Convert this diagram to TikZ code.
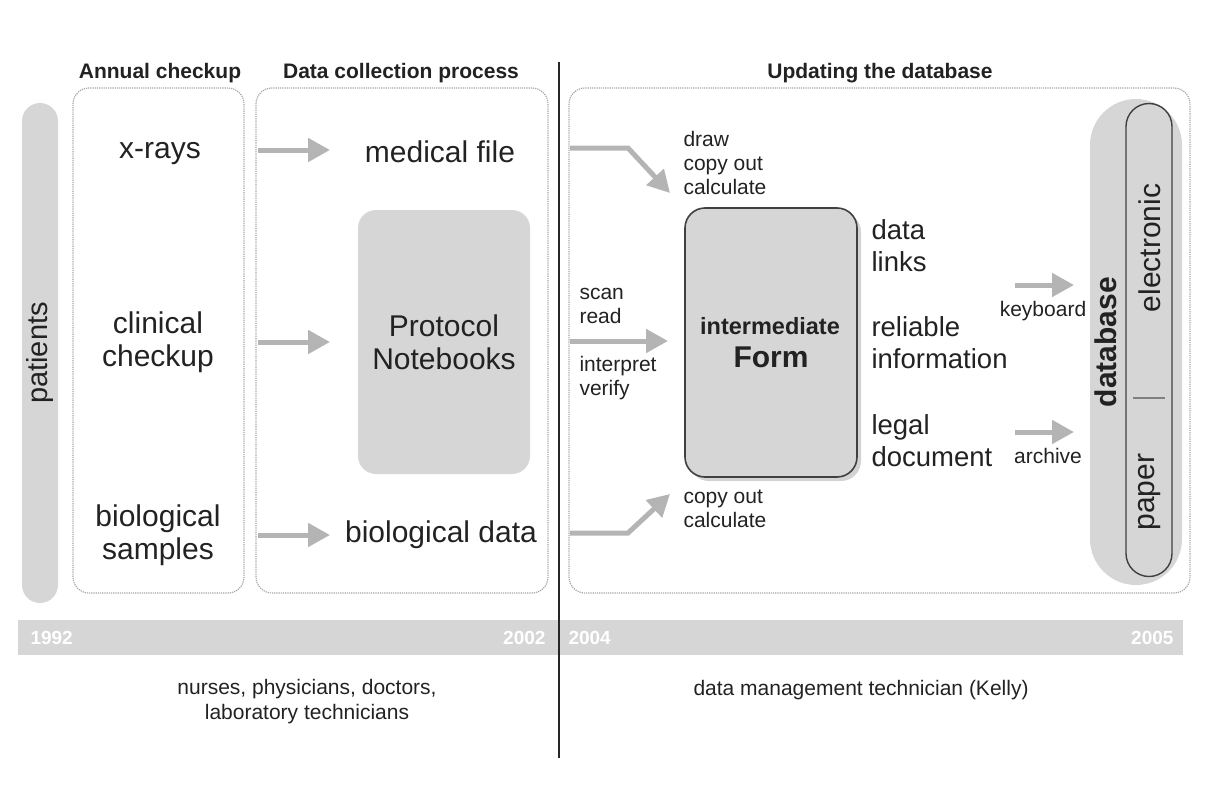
\documentclass[tikz,border=0pt]{standalone}
\usepackage{fontspec}
\setmainfont{Liberation Sans}
\usetikzlibrary{arrows.meta,shadows}
\definecolor{lightgrey}{HTML}{D6D6D6}
\definecolor{arrowgrey}{HTML}{B4B4B4}
\definecolor{textgrey}{HTML}{222222}
\begin{document}
\begin{tikzpicture}[x=1pt, y=-1pt, >={Triangle[length=22pt,width=23pt]},
    big/.style={font=\fontsize{30}{33}\selectfont, text=textgrey},
    mid/.style={font=\fontsize{27.5}{32}\selectfont, text=textgrey, align=left, anchor=west},
    small/.style={font=\fontsize{21}{24}\selectfont, text=textgrey, align=left, anchor=west},
    head/.style={font=\bfseries\fontsize{21}{24}\selectfont, text=textgrey},
    stagebox/.style={draw=gray!70, densely dotted, line width=1.2pt, rounded corners=16pt},
    flow/.style={->, arrowgrey, line width=5pt},
    year/.style={font=\bfseries\fontsize{19}{21}\selectfont, text=white}]
    \useasboundingbox (0,0) rectangle (1209,789);

    % patients and the three stages
    \node[fill=lightgrey, rotate=90, minimum width=500pt, minimum height=36pt,
        rounded corners=18pt, font=\fontsize{29}{33}\selectfont, text=textgrey] (patients) at (40,353) {patients};
    \node[stagebox, minimum width=171pt, minimum height=505pt] (annual) at (158.5,340.5) {};
    \node[stagebox, minimum width=292pt, minimum height=505pt] (collect) at (402,340.5) {};
    \node[stagebox, minimum width=621pt, minimum height=505pt] (update) at (879.5,340.5) {};
    \node[head] (annualt) at (160,73) {Annual checkup};
    \node[head] (collectt) at (401,73) {Data collection process};
    \node[head] (updatet) at (880,73) {Updating the database};

    % annual checkup
    \node[big] (xrays) at (160,154) {x-rays};
    \node[big, align=center] (clinical) at (158,342) {clinical\\checkup};
    \node[big, align=center] (samples) at (158,535) {biological\\samples};

    % data collection
    \node[big] (medfile) at (440,152) {medical file};
    \node[fill=lightgrey, rounded corners=18pt, minimum width=172pt, minimum height=264pt,
        big, align=center] (notebooks) at (444,342) {Protocol\\Notebooks};
    \node[big] (biodata) at (441,535) {biological data};
    \foreach \y/\n in {150/a, 342/b, 535/c}
    {
        \coordinate (in\n) at (258,\y);
        \coordinate (out\n) at (330,\y);
        \draw[flow] (in\n) -- (out\n);
    }

    % updating the database
    \node[fill=lightgrey, draw=black!75, line width=1.6pt, rounded corners=20pt,
        minimum width=172pt, minimum height=269pt,
        drop shadow={opacity=0.35, shadow xshift=4pt, shadow yshift=-4pt}] (form) at (771,342.5) {};
    \node[font=\bfseries\fontsize{23.5}{26}\selectfont, text=textgrey] (formlbl) at (770,326) {intermediate};
    \node[font=\bfseries\fontsize{30}{33}\selectfont, text=textgrey] (formname) at (771,357) {Form};
    \coordinate (topin) at (570,148);
    \coordinate (topbend) at (628,148);
    \coordinate (topend) at (670,193);
    \coordinate (midin) at (570,341);
    \coordinate (midend) at (668,341);
    \coordinate (botin) at (570,533);
    \coordinate (botbend) at (628,533);
    \coordinate (botend) at (670,494);
    \draw[flow] (topin) -- (topbend) -- (topend);
    \draw[flow] (midin) -- (midend);
    \draw[flow] (botin) -- (botbend) -- (botend);
    \node[small] (drawlbl) at (680,163) {draw\\copy out\\calculate};
    \node[small] (scanlbl) at (576,306) {scan\\read};
    \node[small] (interplbl) at (576,378) {interpret\\verify};
    \node[small] (copylbl) at (680,509) {copy out\\calculate};
    \node[mid] (links) at (868,246) {data\\links};
    \node[mid] (reliable) at (868,343) {reliable\\information};
    \node[mid] (legal) at (868,441) {legal\\document};
    \coordinate (kbin) at (1015,285);
    \coordinate (kbout) at (1074,285);
    \coordinate (arin) at (1015,432);
    \coordinate (arout) at (1074,432);
    \draw[flow] (kbin) -- (kbout);
    \draw[flow] (arin) -- (arout);
    \node[small, anchor=center] (keyboard) at (1043,311) {keyboard};
    \node[small, anchor=center] (archive) at (1048,456) {archive};

    % database
    \node[fill=lightgrey, rotate=90, minimum width=486pt, minimum height=92pt,
        rounded corners=46pt] (database) at (1136,342) {};
    \node[draw=black!75, line width=1.4pt, rotate=90, minimum width=473pt, minimum height=46pt,
        rounded corners=23pt] (storage) at (1149,340) {};
    \node[rotate=90, font=\bfseries\fontsize{30}{33}\selectfont, text=textgrey] (dblbl) at (1106,342) {database};
    \node[rotate=90, big] (electronic) at (1150,248) {electronic};
    \node[rotate=90, big] (paper) at (1150,492) {paper};
    \draw[gray, line width=1.2pt] (storage.center |- 0,398) ++(-16,0) coordinate (sepl) -- ++(32,0) coordinate (sepr);

    % time line
    \fill[lightgrey] (18,620) rectangle (1183,655);
    \node[year, anchor=west] (y1992) at (27,638) {1992};
    \node[year, anchor=east] (y2002) at (549,638) {2002};
    \node[year, anchor=west] (y2004) at (565,638) {2004};
    \node[year, anchor=east] (y2005) at (1177,638) {2005};
    \draw[black!85, line width=2pt] (559,62) -- (559,758);
    \node[font=\fontsize{21}{25}\selectfont, text=textgrey, align=center] (staff) at (307,702)
        {nurses, physicians, doctors,\\laboratory technicians};
    \node[font=\fontsize{21}{25}\selectfont, text=textgrey, anchor=west] (tech) at (690,690)
        {data management technician (Kelly)};
\end{tikzpicture}
\end{document}
